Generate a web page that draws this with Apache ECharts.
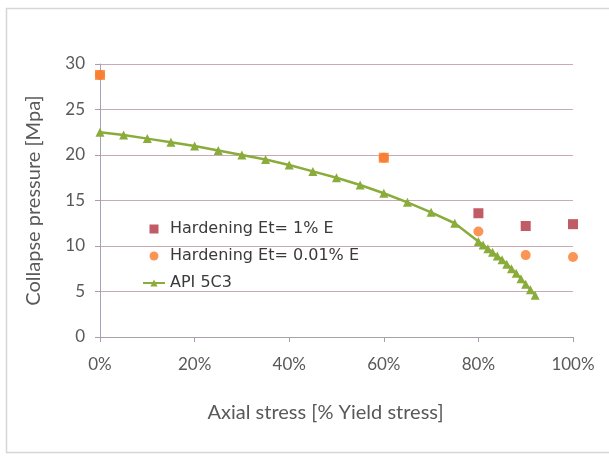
<!DOCTYPE html>
<html>
<head>
<meta charset="utf-8">
<script src="https://cdn.jsdelivr.net/npm/echarts@6/dist/echarts.min.js"></script>
<style>
html,body{margin:0;padding:0;background:#fff;}
#c{width:609px;height:458px;}
</style>
</head>
<body>
<div id="c"></div>
<script>
// Data
const hardX = [0, 60, 80, 90, 100];
const hard1 = [28.8, 19.7, 13.6, 12.2, 12.4];
const hard001 = [28.8, 19.7, 11.6, 9.0, 8.8];
const apiX = [0, 5, 10, 15, 20, 25, 30, 35, 40, 45, 50, 55, 60, 65, 70, 75, 80, 81, 82, 83, 84, 85, 86, 87, 88, 89, 90, 91, 92];
const apiY = [22.5, 22.2, 21.8, 21.4, 21.0, 20.5, 20.0, 19.5, 18.9, 18.2, 17.5, 16.7, 15.8, 14.8, 13.7, 12.5, 10.5, 10.1, 9.7, 9.3, 8.9, 8.5, 8.0, 7.5, 7.0, 6.4, 5.8, 5.2, 4.6];
const xTicks = [0, 20, 40, 60, 80, 100];
const yTicks = [0, 5, 10, 15, 20, 25, 30];
const names = ['Hardening Et= 1% E', 'Hardening Et= 0.01% E', 'API 5C3'];

const RED = '#b2323f', ORANGE = '#f97a2a', GREEN = '#8aac3a';
const tickFont = {fontFamily: 'Lato', fontSize: 17, color: '#595959'};
const nameFont = {fontFamily: 'Lato', fontSize: 20, color: '#595959'};

const chart = echarts.init(document.getElementById('c'), null, {renderer: 'canvas'});
chart.setOption({
  backgroundColor: '#fff',
  animation: false,
  graphic: [{
    type: 'rect', shape: {x: 6.5, y: 8.5, width: 620, height: 444},
    style: {fill: 'none', stroke: '#d6d6d6', lineWidth: 1.5}, silent: true
  }],
  grid: {left: 100, right: 36, top: 64, bottom: 121},
  legend: {
    orient: 'vertical', left: 137, top: 216, itemGap: 11,
    itemWidth: 22, itemHeight: 9,
    textStyle: {fontFamily: 'DejaVu Sans', fontSize: 16, color: '#3a3a3a'},
    data: [
      {name: names[0], icon: 'path://M0 0H10V10H0Z', itemStyle: {color: RED}},
      {name: names[1], icon: 'circle', itemStyle: {color: ORANGE}},
      {name: names[2]}
    ]
  },
  xAxis: {
    type: 'value', min: xTicks[0], max: xTicks[xTicks.length - 1], interval: 20,
    name: 'Axial stress [% Yield stress]', nameLocation: 'middle', nameGap: 66,
    nameTextStyle: Object.assign({padding: [0, 22, 0, 0]}, nameFont),
    axisLine: {show: true, lineStyle: {color: '#a8a0a8', width: 1}},
    axisTick: {show: true, inside: false, length: 5, lineStyle: {color: '#a8a0a8'}},
    axisLabel: Object.assign({formatter: '{value}%', margin: 19}, tickFont),
    splitLine: {show: false}
  },
  yAxis: {
    type: 'value', min: yTicks[0], max: yTicks[yTicks.length - 1], interval: 5,
    name: 'Collapse pressure [Mpa]', nameLocation: 'middle', nameGap: 56, nameRotate: 90,
    nameTextStyle: nameFont,
    axisLine: {show: true, lineStyle: {color: '#a8a0b8', width: 1}},
    axisTick: {show: true, inside: false, length: 5, lineStyle: {color: '#a8a0a8'}},
    axisLabel: Object.assign({margin: 15}, tickFont),
    splitLine: {show: true, lineStyle: {color: '#c9aab4', width: 1}}
  },
  series: [
    {
      name: names[0], type: 'scatter', symbol: 'rect', symbolSize: 10, z: 3,
      symbolKeepAspect: true,
      itemStyle: {
        color: function (p) { return hard1[p.dataIndex] === hard001[p.dataIndex] ? ORANGE : RED; }
      },
      data: hardX.map((x, i) => [x, hard1[i]])
    },
    {
      name: names[1], type: 'scatter', symbol: 'circle', symbolSize: 10, z: 2,
      itemStyle: {color: ORANGE},
      data: hardX.map((x, i) => [x, hard001[i]])
    },
    {
      name: names[2], type: 'line', symbol: 'triangle', symbolSize: 9, showSymbol: true, z: 4,
      lineStyle: {color: GREEN, width: 2.5},
      itemStyle: {color: GREEN, borderWidth: 0},
      data: apiX.map((x, i) => [x, apiY[i]])
    }
  ]
});
</script>
</body>
</html>
